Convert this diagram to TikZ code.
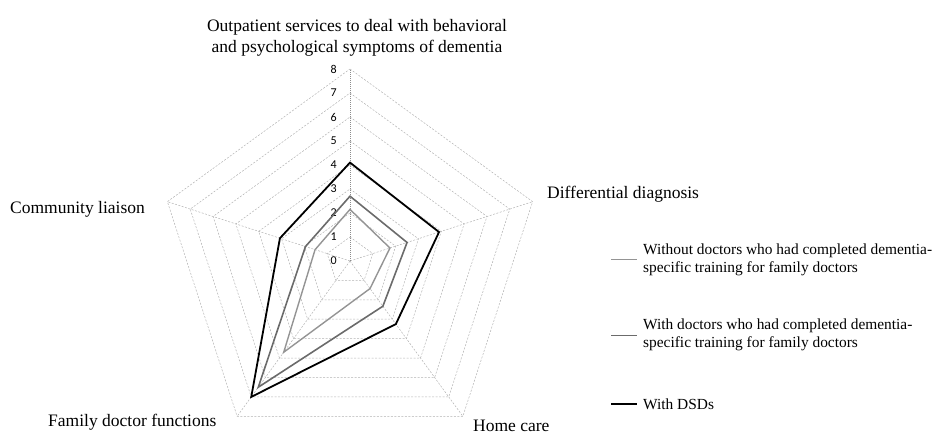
\documentclass[tikz,border=0pt]{standalone}
\usepackage{fontspec}
\setmainfont{Liberation Serif}
\newfontfamily\tickfont{Carlito}
\usetikzlibrary{positioning}

\tikzset{
  grid line/.style={draw=black!30, line width=0.5pt, dash pattern=on 2pt off 1.5pt},
  axis line/.style={draw=black!45, line width=0.6pt, dash pattern=on 1pt off 1pt},
  without line/.style={draw=black!42, line width=1.4pt, line join=miter},
  withdoc line/.style={draw=black!58, line width=1.6pt, line join=miter},
  dsd line/.style={draw=black, line width=1.8pt, line join=miter},
  axis label/.style={font=\fontsize{17.5}{21.5}\selectfont, inner sep=0pt, anchor=west},
  legend text/.style={font=\fontsize{15.4}{18.5}\selectfont, inner sep=0pt, anchor=west, align=left},
  tick label/.style={font=\tickfont\fontsize{12}{12}\selectfont, inner sep=0pt, anchor=east}
}

\begin{document}
\begin{tikzpicture}[x=1pt,y=1pt]
\useasboundingbox (0,0) rectangle (934,434);
\coordinate (o) at (350,173);

% grid and spokes, one unit = 24pt
\begin{scope}[shift={(o)}, x=24pt, y=24pt]
  \foreach \r in {1,...,8}
    \draw[grid line] (90:\r) -- (18:\r) -- (-54:\r) -- (-126:\r) -- (162:\r) -- cycle;
  \foreach \a in {18,-54,-126,162}
    \draw[grid line] (0,0) -- (\a:8);
  \draw[axis line] (0,0) -- (90:8);
  \foreach \v in {0,...,8}
    \node[tick label] (tick\v) at (-0.55,\v) {\v};

  % the three series
  \draw[without line] (90:2.15) -- (18:1.75) -- (-54:1.42) -- (-126:4.7) -- (162:1.53) -- cycle;
  \draw[withdoc line] (90:2.7) -- (18:2.5) -- (-54:2.33) -- (-126:6.5) -- (162:1.95) -- cycle;
  \draw[dsd line] (90:4.1) -- (18:3.9) -- (-54:3.25) -- (-126:7.0) -- (162:3.07) -- cycle;
\end{scope}

% axis labels
\node[axis label, anchor=center, align=center] (title) at (357,396)
  {Outpatient services to deal with behavioral\\and psychological symptoms of dementia};
\node[axis label] (dd) at (547,240) {Differential diagnosis};
\node[axis label] (cl) at (10,225) {Community liaison};
\node[axis label] (fdf) at (48,12) {Family doctor functions};
\node[axis label] (hc) at (473,8) {Home care};

% legend
\coordinate (ma1) at (611,174);
\coordinate (mb1) at (637,174);
\draw[draw=black!42, line width=1pt] (ma1) -- (mb1);
\node[legend text, right=6pt of mb1] (leg1)
  {Without doctors who had completed dementia-\\specific training for family doctors};
\coordinate (ma2) at (611,99);
\coordinate (mb2) at (637,99);
\draw[draw=black!58, line width=1pt] (ma2) -- (mb2);
\node[legend text, right=6pt of mb2] (leg2)
  {With doctors who had completed dementia-\\specific training for family doctors};
\coordinate (ma3) at (611,30);
\coordinate (mb3) at (637,30);
\draw[draw=black, line width=1.4pt] (ma3) -- (mb3);
\node[legend text, right=6pt of mb3] (leg3) {With DSDs};
\end{tikzpicture}
\end{document}
